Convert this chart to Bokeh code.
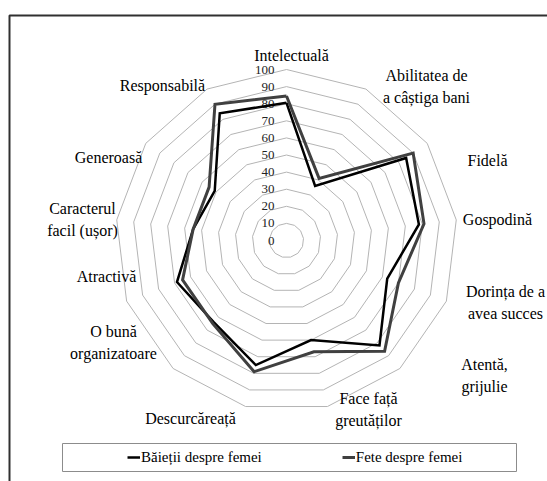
import math
from bokeh.plotting import figure
from bokeh.models import Range1d, Legend, LegendItem
from bokeh.core.properties import value
from bokeh.embed import file_html
from bokeh.resources import INLINE

# ---------------- data ----------------
categories = ["Intelectuală", "Abilitatea de\na câștiga bani", "Fidelă", "Gospodină",
              "Dorința de a\navea succes", "Atentă,\ngrijulie", "Face față\ngreutăților",
              "Descurcăreață", "O bună\norganizatoare", "Atractivă",
              "Caracterul\nfacil (ușor)", "Generoasă", "Responsabilă"]
baietii = [80.5, 36, 85, 78, 63, 82, 60, 75, 64, 68.5, 55, 51, 84]
fete = [84.5, 41, 90, 81, 70, 86.5, 67, 79, 65, 65, 55, 55, 90]
tick_values = [0, 10, 20, 30, 40, 50, 60, 70, 80, 90, 100]
tick_labels = ["0", "10", "20", "30", "40", "50", "60", "70", "80", "90", "100"]

# ---------------- layout ----------------
W, H = 547, 481
OX, OY = 0, 0              # page offset of the figure
CX, CY = 286, 240          # page pixel of radar centre
S = 1.71                   # pixels per value unit
FONT = "Liberation Serif"

def P(px, py):
    """page pixel -> data coordinates"""
    return (px - CX) / S, (CY - py) / S

# label block centres (page pixels)
label_pos = [(291, 55), (426, 86), (487, 160), (497, 219), (505, 302), (484, 375),
             (368, 409), (190, 418), (113, 342), (106, 276), (82, 219), (108, 157), (162, 85)]

n = len(categories)
angles = [2 * math.pi * k / n for k in range(n)]

def polar(vals):
    xs = [v * math.sin(a) for v, a in zip(vals, angles)]
    ys = [v * math.cos(a) for v, a in zip(vals, angles)]
    return xs + xs[:1], ys + ys[:1]

p = figure(width=W, height=H, output_backend="svg", toolbar_location=None,
           x_range=Range1d((OX - CX) / S, (OX + W - CX) / S),
           y_range=Range1d((CY - OY - H) / S, (CY - OY) / S),
           min_border=0, outline_line_color=None)
p.axis.visible = False
p.grid.visible = False
p.background_fill_color = "white"

# grid polygons
gx, gy = [], []
for v in tick_values[1:]:
    xs, ys = polar([v] * n)
    gx.append(xs)
    gy.append(ys)
p.multi_line(gx, gy, line_color="#b4b4b4", line_width=1)

# tick labels
p.text(x=[0] * len(tick_values), y=tick_values, text=tick_labels,
       text_font=value(FONT), text_font_size="13px", text_color="#222222",
       text_align="right", text_baseline="middle", x_offset=-12)

# series
bx, by = polar(baietii)
fx, fy = polar(fete)
r1 = p.line(bx, by, line_color="#000000", line_width=2.5, line_join="miter")
r2 = p.line(fx, fy, line_color="#404040", line_width=3, line_join="miter")

# category labels
lx = [P(a, b)[0] for a, b in label_pos]
ly = [P(a, b)[1] for a, b in label_pos]
p.text(x=lx, y=ly, text=categories, text_font=value(FONT), text_font_size="16px",
       text_color="#000000", text_align="center", text_baseline="middle",
       text_line_height=1.25)

# outer chart frame (cut off at right and bottom)
fxs, fys = zip(P(9, 481), P(9, 15), P(547, 15))
p.line(list(fxs), list(fys), line_color="#303030", line_width=2)

# legend box
l0, t0 = P(62, 443)
r0, b0 = P(516, 471)
p.quad(left=[l0], right=[r0], top=[t0], bottom=[b0], fill_color=None,
       line_color="#8c8c8c", line_width=1)

legend = Legend(items=[LegendItem(label="Băieții despre femei", renderers=[r1]),
                       LegendItem(label="Fete despre femei", renderers=[r2])],
                orientation="horizontal", location=(127 - OX, H - (457 - OY) - 10),
                border_line_alpha=0, background_fill_alpha=0,
                label_text_font=FONT, label_text_font_size="15px",
                label_text_color="#000000",
                glyph_width=13, label_standoff=1, spacing=80,
                padding=0, margin=0, label_height=20, glyph_height=20)
p.add_layout(legend)

open("out.html", "w").write(file_html(p, INLINE))
